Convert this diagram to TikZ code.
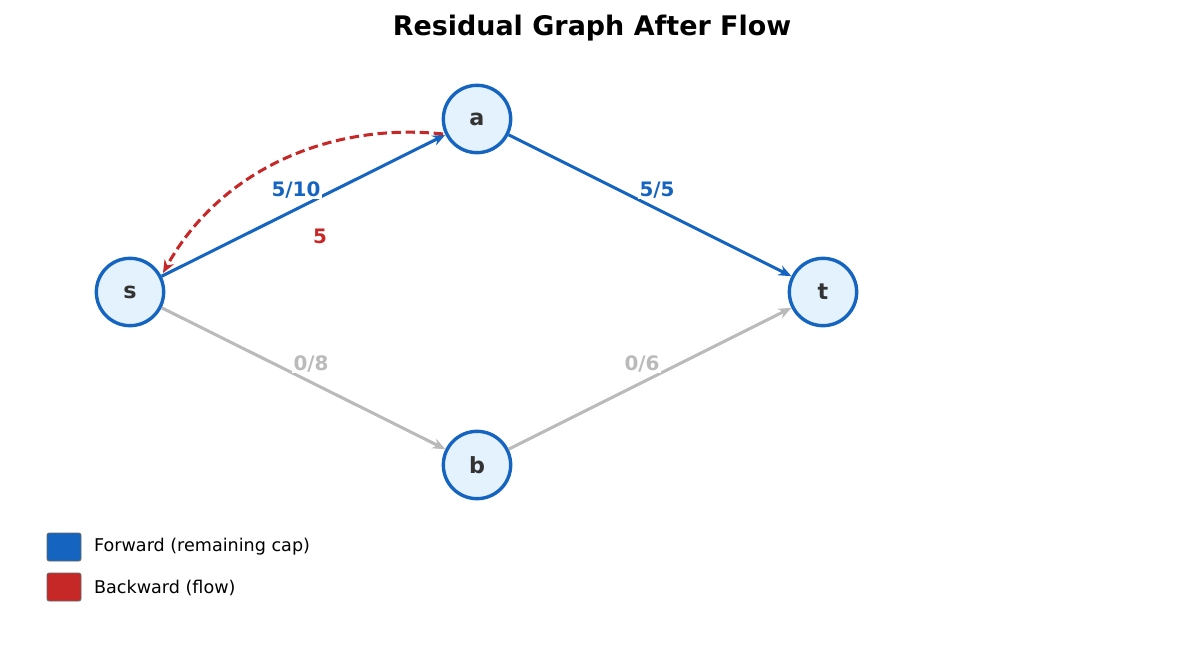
\documentclass[tikz,border=0pt]{standalone}
\usepackage{fontspec}
\setmainfont{DejaVu Sans}
\usetikzlibrary{arrows.meta}
\definecolor{fblue}{HTML}{1565C0}
\definecolor{bred}{HTML}{C62828}
\definecolor{egray}{HTML}{BABABA}
\definecolor{nfill}{HTML}{E3F2FD}
\definecolor{ntext}{HTML}{333333}
\begin{document}
\begin{tikzpicture}[x=0.03cm,y=-0.03cm,
  vert/.style={circle,draw=fblue,line width=2.9pt,fill=nfill,minimum size=2.02cm,inner sep=0pt,text=ntext,font=\fontsize{19}{19}\selectfont\bfseries},
  fwd/.style={draw=fblue,line width=2.6pt,-{Stealth[length=11pt,width=9pt]}},
  unused/.style={draw=egray,line width=2.6pt,-{Stealth[length=11pt,width=9pt]}},
  back/.style={draw=bred,line width=2.6pt,dash pattern=on 8pt off 4pt,-{Stealth[length=11pt,width=9pt]}},
  lbl/.style={fill=white,inner sep=1pt,font=\fontsize{17}{17}\selectfont\bfseries},
  leg/.style={rounded corners=2pt,draw=gray!80!black,line width=0.8pt},
  legtxt/.style={anchor=west,font=\fontsize{15}{15}\selectfont}]
\useasboundingbox (0,0) rectangle (1185,654);
\node[font=\fontsize{23}{23}\selectfont\bfseries] (title) at (592,28) {Residual Graph After Flow};
\node[vert] (s) at (130,292) {s};
\node[vert] (a) at (477,119) {a};
\node[vert] (t) at (823,292) {t};
\node[vert] (b) at (477,465) {b};
\coordinate (bs) at (443,134);
\coordinate (be) at (163,273);
\draw[unused] (s) -- (b);
\draw[unused] (b) -- (t);
\draw[fwd] (s) -- (a);
\draw[fwd] (a) -- (t);
\draw[back] (bs) .. controls (330,122) and (220,170) .. (be);
\node[lbl,text=fblue] (l1) at (296,190) {5/10};
\node[lbl,text=fblue] (l2) at (657,190) {5/5};
\node[lbl,text=egray] (l3) at (311,364) {0/8};
\node[lbl,text=egray] (l4) at (642,364) {0/6};
\node[font=\fontsize{17}{17}\selectfont\bfseries,text=bred] (l5) at (320,236) {5};
\draw[leg,fill=fblue] (47,533) rectangle (81,561);
\draw[leg,fill=bred] (47,573) rectangle (81,601);
\node[legtxt] (t1) at (90,547) {Forward (remaining cap)};
\node[legtxt] (t2) at (90,588) {Backward (flow)};
\end{tikzpicture}
\end{document}
